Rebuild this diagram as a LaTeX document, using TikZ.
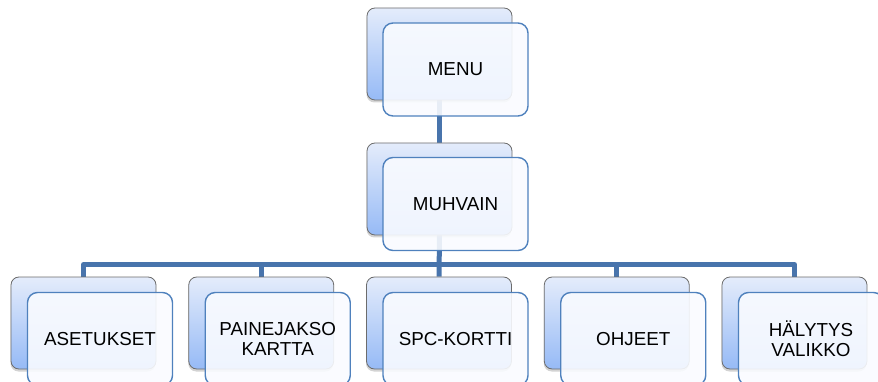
\documentclass[tikz,border=0pt]{standalone}
\usepackage{fontspec}
\setmainfont{Liberation Sans}
\usetikzlibrary{shadows}
\pgfdeclarelayer{wires}
\pgfsetlayers{wires,main}
\definecolor{linkblue}{RGB}{72,116,172}
\definecolor{frontedge}{RGB}{79,129,189}
\definecolor{backtop}{RGB}{228,236,251}
\definecolor{backbot}{RGB}{150,186,246}
\definecolor{frontfill}{RGB}{249,251,255}
\tikzset{
  backbox/.style={rectangle, rounded corners=8pt, draw=gray!85!black, line width=0.8pt,
    top color=backtop, bottom color=backbot, minimum width=145pt, minimum height=92pt,
    inner sep=0pt,
    drop shadow={shadow xshift=-0.5pt, shadow yshift=-2.5pt, opacity=0.35}},
  frontbox/.style={rectangle, rounded corners=10pt, draw=frontedge, line width=1.4pt,
    fill=frontfill, fill opacity=0.9, text opacity=1, minimum width=145pt,
    minimum height=93pt, align=center, inner sep=0pt,
    font=\fontsize{18.8}{20}\selectfont},
  link/.style={draw=linkblue, line width=5pt, line join=round}
}
\begin{document}
\begin{tikzpicture}[x=1pt, y=-1pt]
\useasboundingbox (0,0) rectangle (878,382);
% top two levels
\node[backbox]  (menuB) at (439.5,54) {};
\node[frontbox] (menuF) at (455.5,69.5) {MENU};
\node[backbox]  (muhB)  at (439.5,189) {};
\node[frontbox] (muhF)  at (455.5,204) {MUHVAIN};
% bottom row
\node[backbox]  (asetB) at (83.5,323) {};
\node[frontbox] (asetF) at (100,339) {ASETUKSET};
\node[backbox]  (painB) at (261.25,323) {};
\node[frontbox] (painF) at (277.75,339) {PAINEJAKSO\\KARTTA};
\node[backbox]  (spcB)  at (439,323) {};
\node[frontbox] (spcF)  at (455.5,339) {SPC-KORTTI};
\node[backbox]  (ohjB)  at (616.75,323) {};
\node[frontbox] (ohjF)  at (633.25,339) {OHJEET};
\node[backbox]  (halyB) at (794.5,323) {};
\node[frontbox] (halyF) at (811,339) {HÄLYTYS\\VALIKKO};
\coordinate (bus) at (0,264.5);
% connectors behind the boxes
\begin{pgfonlayer}{wires}
\draw[link] (menuB.south -| muhB.north) -- (muhB.north);
\draw[link] (muhB.south) -- (spcB.north);
\draw[link] (asetB.north) -- (asetB.north |- bus) -- (halyB.north |- bus) -- (halyB.north);
\draw[link] (painB.north |- bus) -- (painB.north);
\draw[link] (ohjB.north |- bus) -- (ohjB.north);
\end{pgfonlayer}
\end{tikzpicture}
\end{document}
